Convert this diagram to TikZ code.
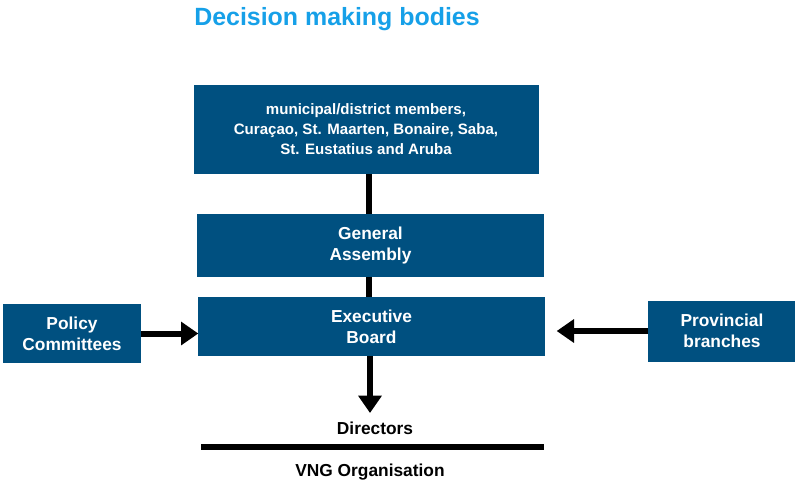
\documentclass[tikz,border=0pt]{standalone}
\usepackage{fontspec}
\setmainfont{Liberation Sans}
\usetikzlibrary{arrows.meta}

\definecolor{boxblue}{RGB}{0,80,128}
\definecolor{titleblue}{RGB}{22,160,232}

\tikzset{every picture/.style={line width=0.75pt}}
\tikzset{
  orgbox/.style={fill=boxblue, draw=boxblue, text=white, font=\bfseries\fontsize{13}{15.75}\selectfont, align=center, inner sep=0pt},
  link/.style={line width=4.5pt},
  feed/.style={line width=4.5pt, -{Triangle[length=13pt,width=17pt]}},
  plain/.style={font=\bfseries\fontsize{13}{15.75}\selectfont, inner sep=0pt}
}

\begin{document}
\begin{tikzpicture}[x=0.75pt,y=0.75pt,yscale=-1,xscale=1]
	\useasboundingbox (0,0) rectangle (795,483);
	
	% Title
	\node (title) at (337,19) [inner sep=0pt, text=titleblue, font=\bfseries\fontsize{18.7}{22}\selectfont] {Decision making bodies};
	
	% Boxes
	\node (members) at (366,129) [orgbox, minimum width=258pt, minimum height=66pt, font=\bfseries\fontsize{11.3}{15}\selectfont] {municipal/district members,\\Curaçao, St. Maarten, Bonaire, Saba,\\St. Eustatius and Aruba};
	\node (assembly) at (370.5,245.5) [orgbox, minimum width=259pt, minimum height=46pt] {General\\Assembly};
	\node (board) at (371.5,326.5) [orgbox, minimum width=259pt, minimum height=44pt] {Executive\\Board};
	\node (policy) at (72,333.5) [orgbox, minimum width=103pt, minimum height=43pt] {Policy\\Committees};
	\node (provincial) at (722,331) [orgbox, minimum width=110pt, minimum height=45pt] {Provincial\\branches};
	
	% Lower labels
	\node (directors) at (375,428) [plain] {Directors};
	\node (vng) at (370,472) [plain] {VNG Organisation};
	\coordinate (tip) at (370,413);
	\coordinate (ruleL) at (201,447);
	\coordinate (ruleR) at (544,447);
	
	% Connectors
	\draw [link] (members.south -| 369,0) -- (assembly.north -| 369,0);
	\draw [link] (assembly.south -| 369,0) -- (board.north -| 369,0);
	\draw [feed] (policy.east) -- (board.west |- policy.east);
	\draw [feed, shorten >=12pt*0.75] (provincial.west) -- (board.east |- provincial.west);
	\draw [feed] (board.south -| tip) -- (tip);
	\draw [link] (ruleL) -- (ruleR);
	
\end{tikzpicture}
\end{document}
